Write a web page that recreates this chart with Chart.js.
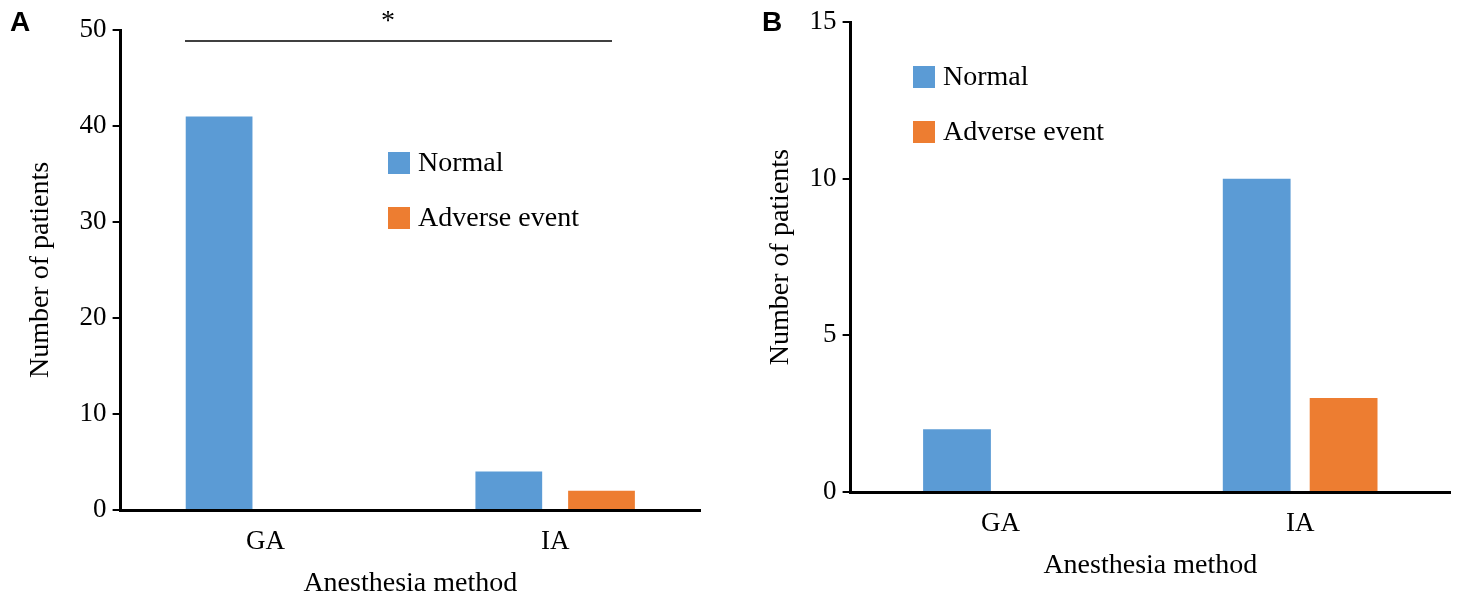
<!DOCTYPE html>
<html>
<head>
<script src="https://cdn.jsdelivr.net/npm/chart.js@4"></script>
<style>
  body { margin: 0; background: #fff; width: 1458px; height: 601px; position: relative; overflow: hidden; }
  .panel { position: absolute; top: 0; height: 601px; }
  .tag { position: absolute; font: bold 28px "Liberation Sans", Arial; }
</style>
</head>
<body>
<div class="panel" style="left:0;width:712px"><canvas id="chartA"></canvas></div>
<div class="panel" style="left:740px;width:718px"><canvas id="chartB"></canvas></div>
<div class="tag" style="left:10px;top:6px">A</div>
<div class="tag" style="left:762px;top:6px">B</div>
<script>
const categories = ["GA", "IA"];
const seriesNames = ["Normal", "Adverse event"];
const normalA = [41, 4];
const adverseA = [0, 2];
const normalB = [2, 10];
const adverseB = [0, 3];
const ticksA = [0, 10, 20, 30, 40, 50];
const ticksB = [0, 5, 10, 15];
const colors = ["#5b9bd5", "#ed7d31"];

const serif = "'Liberation Serif', 'Times New Roman', serif";

const legendPlugin = {
  id: "boxLegend",
  afterDraw(chart, args, opts) {
    const ctx = chart.ctx;
    ctx.save();
    ctx.font = "28px " + serif;
    ctx.textBaseline = "middle";
    seriesNames.forEach((name, i) => {
      const y = opts.y + i * 55;
      ctx.fillStyle = colors[i];
      ctx.fillRect(opts.x, y - 11, 22, 22);
      ctx.fillStyle = "#000";
      ctx.fillText(name, opts.x + 30, y + 1);
    });
    if (opts.star) {
      ctx.strokeStyle = "#000";
      ctx.lineWidth = 1.5;
      ctx.beginPath();
      ctx.moveTo(185, 41);
      ctx.lineTo(612, 41);
      ctx.stroke();
      ctx.font = "28px " + serif;
      ctx.textAlign = "center";
      ctx.fillText("*", 388, 22);
    }
    ctx.restore();
  }
};

function makeChart(id, normal, adverse, ticks, max, pad, titlePad, catPct, barPct, legend) {
  new Chart(document.getElementById(id), {
    type: "bar",
    data: {
      labels: categories,
      datasets: [
        { label: seriesNames[0], data: normal, backgroundColor: colors[0], categoryPercentage: catPct, barPercentage: barPct },
        { label: seriesNames[1], data: adverse, backgroundColor: colors[1], categoryPercentage: catPct, barPercentage: barPct }
      ]
    },
    options: {
      responsive: true,
      maintainAspectRatio: false,
      animation: false,
      layout: { padding: pad },
      plugins: { legend: { display: false }, tooltip: { enabled: false }, boxLegend: legend },
      scales: {
        x: {
          grid: { display: false },
          border: { color: "#000", width: 3 },
          ticks: { color: "#000", font: { family: serif, size: 27 }, padding: 8 },
          title: { display: true, text: "Anesthesia method", color: "#000", font: { family: serif, size: 28 }, padding: 0 }
        },
        y: {
          min: 0, max: max,
          afterBuildTicks: axis => { axis.ticks = ticks.map(v => ({ value: v })); },
          grid: { drawOnChartArea: false, drawTicks: true, tickLength: 8, color: "#000", lineWidth: 2 },
          border: { color: "#000", width: 3 },
          ticks: { color: "#000", font: { family: serif, size: 27 }, padding: 6 },
          title: { display: true, text: "Number of patients", color: "#000", font: { family: serif, size: 28 }, padding: titlePad }
        }
      }
    },
    plugins: [legendPlugin]
  });
}

makeChart("chartA", normalA, adverseA, ticksA, 50, { top: 30, left: 8, right: 12, bottom: 1 }, 16, 0.64, 0.72,
  { x: 388, y: 163, star: true });
makeChart("chartB", normalB, adverseB, ticksB, 15, { top: 18, left: 18, right: 8, bottom: 19 }, 6, 0.58, 0.78,
  { x: 173, y: 77, star: false });
</script>
</body>
</html>
